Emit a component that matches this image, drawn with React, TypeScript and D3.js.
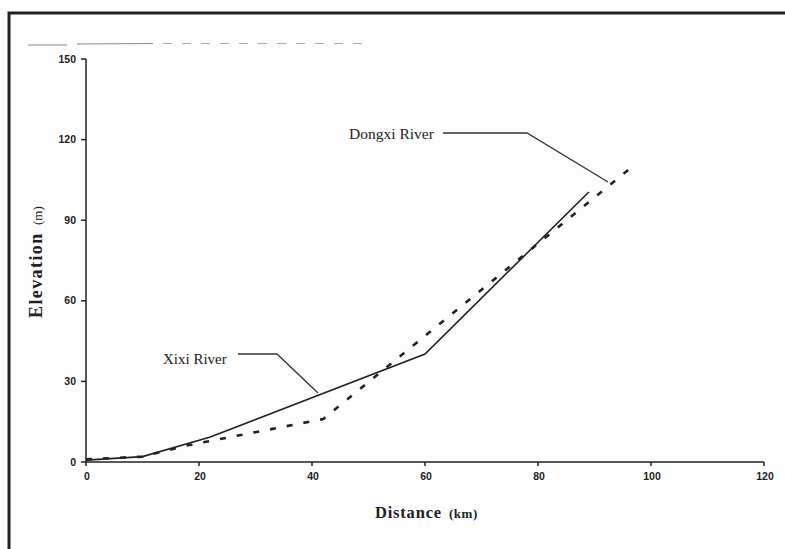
import { useEffect, useRef } from "react";
import * as d3 from "d3";

// Distance (km) / elevation (m)
const xixiDist = [0, 10, 22, 60, 89];
const xixiElev = [0.7, 2, 9.3, 40.2, 100.5];
const dongxiDist = [0, 10, 17.5, 42, 97];
const dongxiElev = [1, 2, 6, 16, 110.5];

const xTicks = [0, 20, 40, 60, 80, 100, 120];
const yTicks = [0, 30, 60, 90, 120, 150];

const W = 785;
const H = 549;
const TICK_FONT = "'Liberation Sans Narrow', 'Arial Narrow', 'Liberation Sans', sans-serif";
const SERIF = "'Liberation Serif', 'Times New Roman', serif";

export default function App() {
  const svgRef = useRef<SVGSVGElement>(null);

  useEffect(() => {
    const svg = d3.select(svgRef.current);
    svg.selectAll("*").remove();

    const x = d3.scaleLinear().domain([0, 120]).range([86, 764]);
    const y = d3.scaleLinear().domain([0, 150]).range([462, 59]);

    svg.append("rect").attr("width", W).attr("height", H).attr("fill", "#fdfdfd");

    // scanned page frame
    svg.append("path")
      .attr("d", `M9,${H + 5} L9,13 L${W + 5},13`)
      .attr("fill", "none")
      .attr("stroke", "#222")
      .attr("stroke-width", 3);

    // faint bleed-through line near the top of the scan
    const bleed = svg.append("g").attr("stroke", "#8a8a8a").attr("stroke-width", 1.2);
    bleed.append("line").attr("x1", 28).attr("x2", 67).attr("y1", 45).attr("y2", 45);
    bleed.append("line").attr("x1", 77).attr("x2", 153).attr("y1", 44).attr("y2", 43.5);
    bleed.append("line").attr("x1", 163).attr("x2", 368).attr("y1", 43.5).attr("y2", 43.5)
      .attr("stroke-dasharray", "9,10").attr("stroke", "#aaa");

    // axes
    const axes = svg.append("g").attr("stroke", "#222").attr("stroke-width", 1.5);
    axes.append("line").attr("x1", x(0)).attr("x2", x(120)).attr("y1", y(0)).attr("y2", y(0));
    axes.append("line").attr("x1", x(0)).attr("x2", x(0)).attr("y1", y(0)).attr("y2", y(150));
    axes.selectAll(".xt").data(xTicks).join("line")
      .attr("x1", (d) => x(d)).attr("x2", (d) => x(d))
      .attr("y1", y(0)).attr("y2", y(0) + 4);
    axes.selectAll(".yt").data(yTicks).join("line")
      .attr("x1", x(0) - 5).attr("x2", x(0))
      .attr("y1", (d) => y(d)).attr("y2", (d) => y(d));

    svg.selectAll(".xl").data(xTicks).join("text")
      .attr("x", (d) => x(d) + 1)
      .attr("y", y(0) + 18)
      .attr("text-anchor", "middle")
      .attr("font-family", TICK_FONT)
      .attr("font-weight", "700")
      .attr("font-size", 10.5)
      .attr("fill", "#222")
      .text((d) => d);

    svg.selectAll(".yl").data(yTicks).join("text")
      .attr("x", x(0) - 10)
      .attr("y", (d) => y(d))
      .attr("dy", "0.35em")
      .attr("text-anchor", "end")
      .attr("font-family", TICK_FONT)
      .attr("font-weight", "700")
      .attr("font-size", 10.5)
      .attr("fill", "#222")
      .text((d) => d);

    // axis titles
    const xt = svg.append("text")
      .attr("x", 375).attr("y", 518)
      .attr("font-family", SERIF)
      .attr("fill", "#222");
    xt.append("tspan").attr("font-weight", "700").attr("font-size", 16.5)
      .attr("letter-spacing", 0.8).text("Distance");
    xt.append("tspan").attr("x", 449).attr("font-weight", "700").attr("font-size", 13)
      .attr("letter-spacing", 0.5).text("(km)");

    const yt = svg.append("text")
      .attr("transform", "translate(42,318) rotate(-90)")
      .attr("font-family", SERIF)
      .attr("fill", "#222");
    yt.append("tspan").attr("font-weight", "700").attr("font-size", 18)
      .attr("letter-spacing", 1.4).text("Elevation");
    yt.append("tspan").attr("x", 93).attr("font-size", 13).text("(m)");

    // profiles
    const line = d3.line<[number, number]>().x((d) => x(d[0])).y((d) => y(d[1]));
    const xixi = xixiDist.map((d, i) => [d, xixiElev[i]] as [number, number]);
    const dongxi = dongxiDist.map((d, i) => [d, dongxiElev[i]] as [number, number]);

    svg.append("path")
      .attr("d", line(dongxi) ?? "")
      .attr("fill", "none")
      .attr("stroke", "#222")
      .attr("stroke-width", 2.6)
      .attr("stroke-dasharray", "6,11");

    svg.append("path")
      .attr("d", line(xixi) ?? "")
      .attr("fill", "none")
      .attr("stroke", "#222")
      .attr("stroke-width", 1.6);

    // callout labels with leader lines
    const callouts = svg.append("g").attr("fill", "none").attr("stroke", "#333").attr("stroke-width", 1.3);
    callouts.append("path").attr("d", "M238,354 L277,354 L318,393");
    callouts.append("path").attr("d", "M443,133 L527,133 L608,182");

    svg.append("text")
      .attr("x", 163).attr("y", 364)
      .attr("font-family", SERIF).attr("font-size", 15).attr("fill", "#222")
      .text("Xixi River");
    svg.append("text")
      .attr("x", 349).attr("y", 139)
      .attr("font-family", SERIF).attr("font-size", 15.5).attr("fill", "#222")
      .text("Dongxi River");
  }, []);

  return (
    <svg
      ref={svgRef}
      width={W}
      height={H}
      style={{ position: "absolute", left: 0, top: 0, display: "block" }}
    />
  );
}
